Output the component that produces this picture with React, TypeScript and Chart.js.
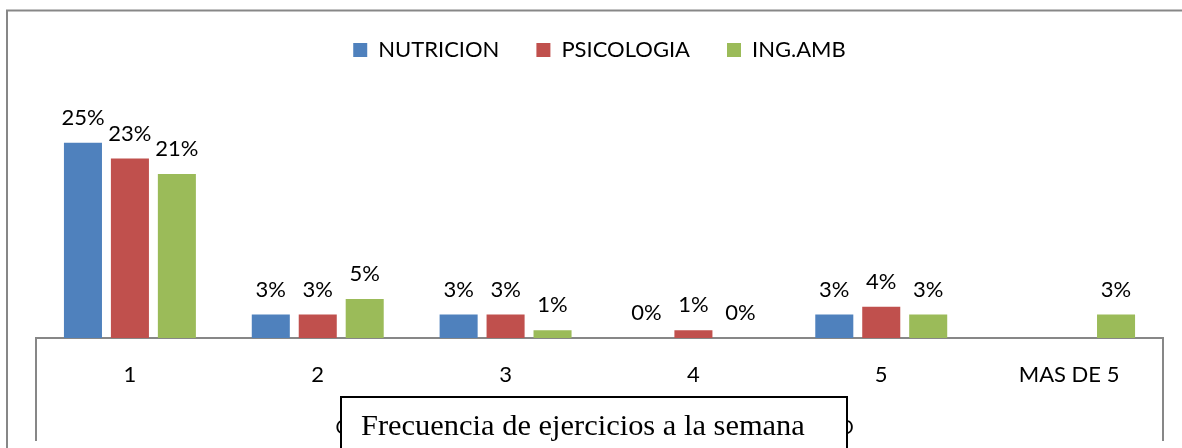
import React, { useEffect, useRef } from 'react';
import { Chart, registerables } from 'chart.js';

Chart.register(...registerables);

const categories = ['1', '2', '3', '4', '5', 'MAS DE 5'];
const nutricion = [25, 3, 3, 0, 3, null];
const psicologia = [23, 3, 3, 1, 4, null];
const ingAmb = [21, 5, 1, 0, 3, 3];
const seriesNames = ['NUTRICION', 'PSICOLOGIA', 'ING.AMB'];
const seriesColors = ['#4F81BD', '#C0504D', '#9BBB59'];
const hiddenAxisTitle = 'CANTIDAD DE VECES A LA SEMANA QUE HACE EJERCICIO\u00A0\u00A0';
const boxTitle = 'Frecuencia de ejercicios a la semana';

const FONT = 'Lato';

const decorPlugin = {
  id: 'decor',
  beforeDraw(chart: any) {
    const { ctx } = chart;
    ctx.save();
    ctx.strokeStyle = '#878787';
    ctx.lineWidth = 2;
    ctx.beginPath();
    ctx.moveTo(7, 448);
    ctx.lineTo(7, 10.5);
    ctx.lineTo(1182, 10.5);
    ctx.stroke();
    ctx.restore();
  },
  afterDraw(chart: any) {
    const { ctx, chartArea } = chart;
    ctx.save();
    ctx.strokeStyle = '#878787';
    ctx.lineWidth = 2;
    ctx.beginPath();
    ctx.moveTo(chartArea.left, chartArea.bottom);
    ctx.lineTo(chartArea.left, 441);
    ctx.moveTo(chartArea.right, chartArea.bottom);
    ctx.lineTo(chartArea.right, 441);
    ctx.stroke();
    // title text box
    ctx.fillStyle = '#ffffff';
    ctx.fillRect(341, 396, 506, 60);
    ctx.strokeStyle = '#000000';
    ctx.lineWidth = 2;
    ctx.beginPath();
    ctx.moveTo(341, 450);
    ctx.lineTo(341, 397);
    ctx.lineTo(847, 397);
    ctx.lineTo(847, 450);
    ctx.stroke();
    ctx.fillStyle = '#000000';
    ctx.textAlign = 'left';
    ctx.textBaseline = 'alphabetic';
    let size = 25;
    ctx.font = `${size}px "Liberation Serif"`;
    const w = ctx.measureText(boxTitle).width;
    size = size * 444 / w;
    ctx.font = `${size}px "Liberation Serif"`;
    ctx.fillText(boxTitle, 361, 435);
    ctx.restore();
  },
};

const labelPlugin = {
  id: 'valueLabels',
  afterDatasetsDraw(chart: any) {
    const { ctx } = chart;
    ctx.save();
    ctx.font = `22px ${FONT}`;
    ctx.fillStyle = '#000000';
    ctx.textAlign = 'center';
    ctx.textBaseline = 'middle';
    chart.data.datasets.forEach((ds: any, di: number) => {
      const meta = chart.getDatasetMeta(di);
      meta.data.forEach((el: any, i: number) => {
        const v = ds.data[i];
        if (v === null || v === undefined) return;
        ctx.fillText(`${v}%`, el.x, el.y - 25);
      });
    });
    ctx.restore();
  },
};

export default function App() {
  const ref = useRef<HTMLCanvasElement>(null);
  useEffect(() => {
    if (!ref.current) return;
    const chart = new Chart(ref.current, {
      type: 'bar',
      data: {
        labels: categories,
        datasets: [nutricion, psicologia, ingAmb].map((d, i) => ({
          label: seriesNames[i],
          data: d,
          backgroundColor: seriesColors[i],
          borderWidth: 0,
          categoryPercentage: 0.75,
          barPercentage: 0.81,
        })),
      },
      options: {
        animation: false,
        responsive: false,
        maintainAspectRatio: false,
        layout: { padding: { left: 36, right: 19, top: 2, bottom: 0 } },
        plugins: {
          legend: {
            position: 'top',
            align: 'center',
            labels: {
              boxWidth: 14,
              boxHeight: 14,
              padding: 37,
              color: '#000000',
              font: { family: FONT, size: 22 },
            },
          },
          tooltip: { enabled: false },
        },
        scales: {
          x: {
            grid: { display: false, drawTicks: false },
            border: { display: true, color: '#878787', width: 2 },
            ticks: {
              color: '#000000',
              padding: 24,
              font: { family: FONT, size: 22 },
            },
            title: {
              display: true,
              text: hiddenAxisTitle,
              color: '#000000',
              font: { family: FONT, size: 19 },
              padding: { top: 0, bottom: 9 },
            },
            afterFit(scale: any) {
              scale.height = 110;
            },
          },
          y: {
            display: false,
            min: 0,
            max: 34.2,
          },
        },
      },
      plugins: [decorPlugin, labelPlugin],
    });
    return () => chart.destroy();
  }, []);
  return (
    <div style={{ position: 'absolute', left: 0, top: 0, width: 1182, height: 448, background: '#fff' }}>
      <canvas ref={ref} width={1182} height={448} />
    </div>
  );
}
